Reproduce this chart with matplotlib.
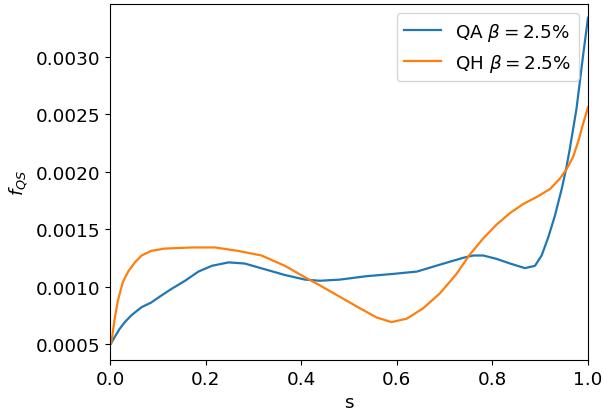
import matplotlib
matplotlib.use("Agg")
import matplotlib.pyplot as plt

s_qa = [0.0, 0.003, 0.0098, 0.020, 0.031, 0.045, 0.066, 0.086, 0.107, 0.129, 0.157, 0.185,
        0.213, 0.248, 0.282, 0.324, 0.366, 0.408, 0.439, 0.481, 0.537, 0.593, 0.642, 0.690,
        0.739, 0.760, 0.781, 0.809, 0.837, 0.868, 0.889, 0.903, 0.917, 0.931, 0.945, 0.955,
        0.962, 0.976, 0.990, 1.0]
f_qa = [0.00049, 0.00051, 0.00056, 0.00063, 0.00069, 0.00075, 0.00082, 0.00086, 0.00092,
        0.00098, 0.00105, 0.00113, 0.00118, 0.00121, 0.00120, 0.00115, 0.00110, 0.00106,
        0.00105, 0.00106, 0.00109, 0.00111, 0.00113, 0.00119, 0.00125, 0.00127, 0.00127,
        0.00124, 0.00120, 0.00116, 0.00118, 0.00127, 0.00143, 0.00162, 0.00185, 0.00204,
        0.00220, 0.00255, 0.00302, 0.00334]

s_qh = [0.0, 0.003, 0.0098, 0.0167, 0.027, 0.038, 0.052, 0.066, 0.086, 0.114, 0.171, 0.220,
        0.268, 0.317, 0.366, 0.408, 0.439, 0.481, 0.523, 0.558, 0.589, 0.621, 0.655, 0.690,
        0.725, 0.753, 0.781, 0.809, 0.837, 0.865, 0.893, 0.921, 0.941, 0.955, 0.969, 0.980,
        0.990, 1.0]
f_qh = [0.0005, 0.000515, 0.00072, 0.00088, 0.00104, 0.00113, 0.00121, 0.00127, 0.00131,
        0.00133, 0.00134, 0.00134, 0.00131, 0.00127, 0.00118, 0.00108, 0.00101, 0.00091,
        0.00081, 0.00073, 0.00069, 0.00072, 0.00081, 0.00094, 0.00111, 0.00128, 0.00142,
        0.00154, 0.00164, 0.00172, 0.00178, 0.00185, 0.00194, 0.00202, 0.00213, 0.00227,
        0.00242, 0.00256]

labels = [r"QA $\beta = 2.5\%$", r"QH $\beta = 2.5\%$"]

fs = 13.2
fig = plt.figure(figsize=(6.03, 4.14), dpi=100)
ax = fig.add_axes([110/603, 1 - 361/414, 478/603, 356/414])
ax.plot(s_qa, f_qa, color="#1f77b4", lw=1.6, label=labels[0])
ax.plot(s_qh, f_qh, color="#ff7f0e", lw=1.6, label=labels[1])
ax.set_xlim(0, 1.0)
ax.set_ylim(0.00036, 0.00346)
ax.set_yticks([0.0005, 0.0010, 0.0015, 0.0020, 0.0025, 0.0030])
ax.set_yticklabels(["0.0005", "0.0010", "0.0015", "0.0020", "0.0025", "0.0030"])
ax.set_xticks([0.0, 0.2, 0.4, 0.6, 0.8, 1.0])
ax.tick_params(labelsize=fs)
ax.set_xlabel("s", fontsize=fs)
ax.set_ylabel(r"$f_{QS}$", fontsize=fs)
ax.legend(fontsize=fs, loc="upper right")
fig.savefig("out.png", dpi=100)
